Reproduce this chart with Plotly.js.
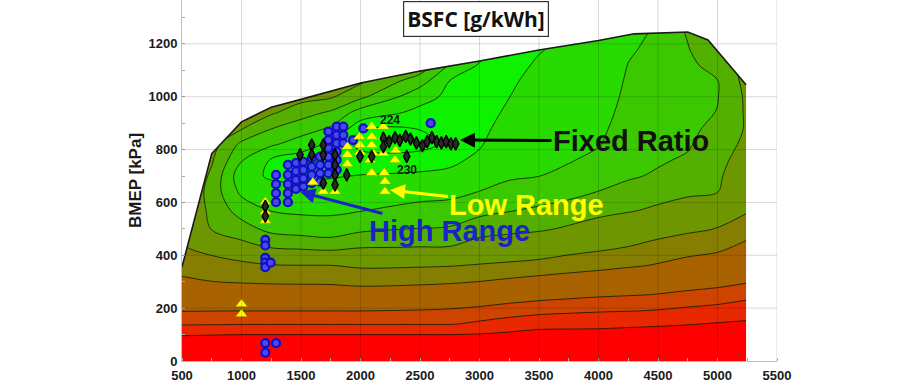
<!DOCTYPE html>
<html>
<head>
<meta charset="utf-8">
<script src="https://cdn.plot.ly/plotly-3.0.1.min.js"></script>
<style>html,body{margin:0;padding:0;background:#fff;}#chart{width:908px;height:385px;}</style>
</head>
<body>
<div id="chart"></div>
<script>
// ---- Data ----
const rpmGrid = [500, 750, 1000, 1250, 1500, 1750, 2000, 2500, 2750, 3000, 3250, 3500, 3750, 4000, 4250, 4500, 4750, 5000, 5250];
const bmepGrid = [0, 50, 100, 140, 190, 250, 300, 360, 430, 500, 570, 640, 700, 760, 820, 880, 940, 1000, 1060, 1120, 1180, 1250, 1300];
// estimated BSFC [g/kWh], one row per BMEP value, one column per rpm value
const bsfc = [
  [800, 800, 800, 800, 800, 800, 800, 800, 800, 800, 800, 800, 800, 800, 800, 800, 800, 800, 800],
  [642, 647, 650, 650, 650, 650, 650, 650, 650, 653, 661, 672, 672, 672, 677, 683, 690, 696, 700],
  [486, 494, 499.5, 499.5, 499.5, 499.5, 499.5, 499.5, 499.5, 506, 522, 544, 544, 544, 554, 566, 579, 592, 600],
  [390.9, 392.9, 395.5, 395.5, 395.5, 395.5, 395.5, 395.6, 395.8, 411.6, 431.9, 454, 460.3, 464.6, 472.3, 481.3, 493.5, 508.3, 520],
  [348, 349.1, 349.6, 349.6, 349.6, 349.6, 349.6, 351.8, 354.2, 359.1, 368.2, 377.9, 385.8, 392.9, 397.4, 403.1, 412.9, 423.3, 444.4],
  [324, 322.3, 320, 318.4, 317.7, 317, 313.4, 317, 320.4, 325, 329.8, 334.3, 338.7, 343.7, 347.6, 351.7, 358.1, 364.6, 379.4],
  [304, 300.3, 297.9, 296.3, 295.8, 295.4, 293, 294.7, 296.6, 300.3, 304.5, 309.1, 312.9, 317.4, 323.6, 328.8, 333.7, 338.3, 346.9],
  [292.3, 288.6, 285.3, 281.3, 280.8, 280.7, 277.9, 278.7, 279.5, 281.5, 283.3, 285.3, 289.6, 292.9, 297.3, 302.2, 309.3, 315.5, 328.4],
  [281.5, 273.3, 263.9, 259.4, 257.7, 256.1, 259.5, 260.3, 260.5, 265.6, 268, 269.9, 273.5, 276.6, 280.5, 285.6, 290.2, 294.3, 306.8],
  [277, 259.3, 254, 247.2, 245.7, 244.8, 248, 250.3, 250.9, 255, 256.8, 258.4, 261.5, 265.4, 269.2, 273, 276.7, 280.6, 289.7],
  [273.5, 256.8, 246, 239.6, 238.2, 238.1, 239.6, 243, 243.8, 247.4, 249.5, 251.5, 253.6, 256.6, 258.9, 262, 265.6, 269.4, 278.4],
  [271.6, 255.8, 237.8, 233.8, 232.5, 233.4, 234.4, 236.5, 237.3, 240.2, 242.7, 245, 247.3, 250.2, 252.5, 255.6, 257.9, 259.7, 274.1],
  [271, 258.2, 233.6, 228.7, 228.2, 229.4, 230.3, 231.3, 232, 235.9, 239, 239.9, 242.6, 246.2, 249.1, 250.9, 254.4, 257.8, 270.3],
  [270.4, 261.1, 240.7, 229, 224.6, 226.1, 226, 226.4, 228.2, 231.8, 237.2, 238.4, 239.3, 242.4, 247.5, 249.2, 250.9, 255.9, 266.6],
  [270.2, 264.6, 247.7, 241.4, 235.5, 228.1, 222.7, 222.3, 225.3, 229.2, 235.3, 237, 237.7, 239.4, 245.8, 248.1, 249.2, 254.1, 262.9],
  [270.8, 266.8, 260.8, 250.3, 244.4, 239, 224.3, 224.2, 225.1, 227.7, 233.5, 235.5, 236.2, 237.8, 244.4, 247.1, 248.1, 252.2, 261.2],
  [271.4, 268.4, 266.8, 261.5, 254.2, 248.5, 235.7, 227.6, 226.3, 226.2, 231.6, 234.2, 234.6, 236.3, 243.2, 246, 247.1, 250.3, 261.6],
  [272, 270, 270, 266.4, 263.7, 261.3, 252.2, 233.3, 228.1, 227, 229.9, 233, 233, 235.3, 242, 245, 246, 249.6, 262],
  [272.6, 270.8, 271, 270, 268, 265.3, 262, 244.4, 229.9, 228.1, 229.1, 231.8, 232.4, 234.5, 241.1, 244, 247.1, 249.8, 263.8],
  [273.2, 271.6, 272, 271.3, 269.5, 268.6, 266, 257.8, 239.2, 229.2, 228.5, 230.6, 231.8, 233.8, 240.2, 243, 248.2, 253, 265.3],
  [273.8, 272.4, 273, 272.5, 271, 270.4, 268, 262.4, 252, 233.3, 228.3, 229.7, 231.1, 233.3, 239, 242.1, 249.3, 260.1, 266.2],
  [274.5, 273.3, 274.2, 274, 272.8, 272.5, 270.3, 265.6, 262.3, 246, 228.7, 229.2, 230.7, 233, 237.7, 240.9, 251.3, 262.5, 267.2],
  [275, 274, 275, 275, 274, 274, 272, 268, 266, 256, 229, 229.5, 230.5, 233, 237, 239.8, 253, 264, 268]
];
const levels = [500, 400, 350, 300, 280, 260, 250, 240, 230, 224];
const bandColors = ['#e82800', '#cc4400', '#a86200', '#867e00', '#6e9600', '#54b000', '#3cc800', '#28da00', '#0ef200', '#00ff00'];

// full-load (torque) envelope
const envRpm  = [500, 750, 1000, 1250, 1500, 2000, 2500, 3000, 3500, 4000, 4300, 4750, 4920, 5240];
const envBmep = [356, 785, 905, 960, 990, 1052, 1097, 1135, 1177, 1213, 1238, 1245, 1215, 1045];

// operating points
const highRpm  = [1200, 1200, 1290, 1200, 1200, 1200, 1200, 1200, 1245, 1290, 1290, 1290, 1290, 1390, 1390, 1390, 1390, 1390, 1458, 1458, 1458, 1458, 1519, 1519, 1519, 1519, 1590, 1590, 1590, 1590, 1660, 1660, 1660, 1660, 1730, 1730, 1730, 1730, 1730, 1730, 1800, 1800, 1800, 1800, 1800, 1800, 1856, 1856, 1856, 1937, 2024, 2590];
const highBmep = [68, 32, 68, 458, 437, 390, 372, 355, 372, 601, 635, 669, 704, 601, 635, 669, 704, 742, 651, 685, 718, 750, 660, 691, 723, 754, 673, 704, 735, 767, 679, 710, 742, 773, 710, 742, 773, 805, 836, 868, 723, 761, 792, 824, 855, 887, 824, 855, 887, 836, 880, 900];
const lowRpm  = [1000, 1000, 1200, 1200, 1200, 1600, 1687, 1786, 1890, 1890, 1890, 1990, 1996, 1996, 2094, 2094, 2094, 2107, 2080, 2094, 2192, 2192, 2192, 2200, 2206, 2206, 2290, 2295];
const lowBmep = [216, 178, 603, 565, 531, 676, 641, 641, 811, 780, 745, 849, 817, 790, 887, 849, 817, 786, 761, 712, 887, 849, 786, 712, 679, 641, 761, 797];
const fixedRpm  = [1200, 1200, 1492, 1590, 1590, 1687, 1687, 1687, 1786, 1786, 1786, 1786, 1884, 1996, 2094, 2388, 2192, 2192, 2240, 2290, 2330, 2380, 2420, 2470, 2520, 2560, 2600, 2640, 2680, 2720, 2760, 2800];
const fixedBmep = [585, 548, 780, 817, 780, 817, 780, 673, 780, 742, 704, 666, 704, 774, 774, 774, 843, 811, 830, 845, 835, 850, 840, 825, 815, 830, 845, 830, 825, 830, 822, 822];

const xTicks = [500, 1000, 1500, 2000, 2500, 3000, 3500, 4000, 4500, 5000, 5500];
const yTicks = [0, 200, 400, 600, 800, 1000, 1200];

// ---- Build traces ----
const traces = [];
levels.forEach((lv, i) => {
  traces.push({
    type: 'contour', x: rpmGrid, y: bmepGrid, z: bsfc,
    contours: {type: 'constraint', operation: '>', value: lv},
    fillcolor: bandColors[i],
    line: {color: 'rgba(15,25,0,0.8)', width: 1, smoothing: 1},
    showscale: false, hoverinfo: 'skip'
  });
});
// white mask outside the envelope
const last = envRpm.length - 1;
traces.push({
  type: 'scatter', mode: 'lines',
  x: envRpm.concat([envRpm[last], 5700, 5700, 300, 300]),
  y: envBmep.concat([-50, -50, 1600, 1600, envBmep[0]]),
  fill: 'toself', fillcolor: '#ffffff', line: {width: 0}, hoverinfo: 'skip'
});
// envelope line
traces.push({
  type: 'scatter', mode: 'lines', x: envRpm, y: envBmep,
  line: {color: '#1a1a1a', width: 1.6}, hoverinfo: 'skip'
});
traces.push({
  type: 'scatter', mode: 'markers', x: highRpm, y: highBmep,
  marker: {symbol: 'circle', size: 8, color: '#4848f4', line: {color: '#1010c0', width: 2.2}}
});
traces.push({
  type: 'scatter', mode: 'markers', x: lowRpm, y: lowBmep,
  marker: {symbol: 'triangle-up', size: 10, color: '#ffff00', line: {color: 'rgba(150,150,0,0.6)', width: 0.6}}
});
traces.push({
  type: 'scatter', mode: 'markers', x: fixedRpm, y: fixedBmep,
  marker: {symbol: 'diamond-tall', size: 9, color: '#2a2a2a', line: {color: '#000', width: 1.4}}
});

const shapes = [{
  type: 'rect', xref: 'x', yref: 'y', x0: rpmGrid[0], x1: rpmGrid[rpmGrid.length - 1],
  y0: bmepGrid[0], y1: bmepGrid[bmepGrid.length - 1], fillcolor: '#ff0000', line: {width: 0}, layer: 'below'
}];
xTicks.slice(1).forEach(v => shapes.push({type: 'line', xref: 'x', yref: 'paper', x0: v, x1: v, y0: 0, y1: 1, line: {color: 'rgba(0,0,0,0.15)', width: 1}, layer: 'above'}));
yTicks.slice(1).forEach(v => shapes.push({type: 'line', xref: 'paper', yref: 'y', x0: 0, x1: 1, y0: v, y1: v, line: {color: 'rgba(0,0,0,0.15)', width: 1}, layer: 'above'}));

const bold = (size, color) => ({family: 'Liberation Sans, Arial, sans-serif', size: size, color: color, weight: 'bold'});

const annotations = [
  {xref: 'paper', yref: 'paper', x: 0.494, y: 0.948, xanchor: 'center', yanchor: 'middle', showarrow: false,
   text: 'BSFC [g/kWh]', font: {family: 'Open Sans, sans-serif', size: 21, color: '#111', weight: 'bold'},
   bordercolor: '#333', borderwidth: 1.2, borderpad: 3, bgcolor: '#ffffff'},
  {x: 2836, y: 836, ax: 4273, ay: 833, axref: 'x', ayref: 'y', text: 'Fixed Ratio', showarrow: true,
   arrowhead: 2, arrowsize: 1, arrowwidth: 3, arrowcolor: '#000', font: bold(29, '#111')},
  {x: 2248, y: 647, ax: 3399, ay: 590, axref: 'x', ayref: 'y', text: 'Low Range', showarrow: true,
   arrowhead: 2, arrowsize: 1, arrowwidth: 3, arrowcolor: '#ffff00', font: bold(29, '#ffff00')},
  {x: 1492, y: 640, ax: 2744, ay: 492, axref: 'x', ayref: 'y', text: 'High Range', showarrow: true,
   arrowhead: 2, arrowsize: 1, arrowwidth: 3, arrowcolor: '#1a22c8', font: bold(29, '#1a22c8')},
  {x: 2248, y: 912, text: '224', showarrow: false, font: bold(12, '#102010')},
  {x: 2388, y: 723, text: '230', showarrow: false, font: bold(12, '#102010')}
];

const layout = {
  width: 908, height: 385,
  margin: {l: 182, r: 131, t: 0, b: 24, pad: 0},
  paper_bgcolor: '#ffffff', plot_bgcolor: '#ffffff',
  showlegend: false, hovermode: false,
  xaxis: {range: [500, 5500], tickvals: xTicks, showgrid: false, zeroline: false,
          showline: true, linecolor: '#c0c0c0', linewidth: 1, ticks: '', ticklabelstandoff: 2,
          tickfont: bold(13, '#1a1a1a'),
          minor: {dtick: 250, ticks: 'inside', ticklen: 3, tickcolor: '#aaa', showgrid: false}},
  yaxis: {range: [0, 1366], tickvals: yTicks, showgrid: false, zeroline: false,
          showline: true, linecolor: '#c0c0c0', linewidth: 1, ticks: '', ticklabelstandoff: 1,
          tickfont: bold(13, '#1a1a1a'),
          minor: {dtick: 100, ticks: 'inside', ticklen: 3, tickcolor: '#aaa', showgrid: false},
          title: {text: 'BMEP [kPa]', font: bold(17, '#1a1a1a'), standoff: 2}},
  shapes: shapes,
  annotations: annotations
};

Plotly.newPlot('chart', traces, layout, {staticPlot: true, displayModeBar: false});
</script>
</body>
</html>
